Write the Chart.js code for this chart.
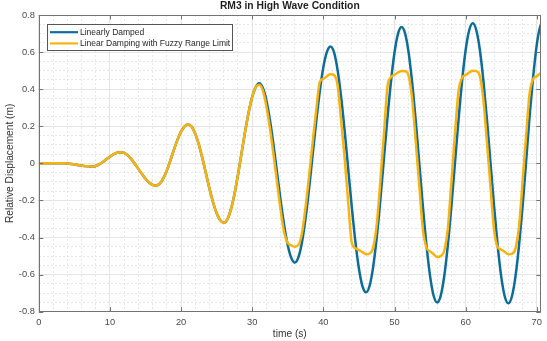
<!DOCTYPE html>
<html>
<head>
<meta charset="utf-8">
<script src="https://cdn.jsdelivr.net/npm/chart.js@4.4.1/dist/chart.umd.min.js"></script>
<style>
  html, body { margin: 0; padding: 0; background: #fff; }
  #wrap { width: 547px; height: 341px; }
</style>
</head>
<body>
<div id="wrap"><canvas id="rm3Chart" width="547" height="341"></canvas></div>
<script>
// RM3 relative displacement, sampled every 0.5 s
const time = [
  0, 0.5, 1, 1.5, 2, 2.5, 3, 3.5, 4, 4.5, 5, 5.5, 6, 6.5, 7, 7.5, 8, 8.5, 9, 9.5,
  10, 10.5, 11, 11.5, 12, 12.5, 13, 13.5, 14, 14.5, 15, 15.5, 16, 16.5, 17, 17.5, 18, 18.5, 19, 19.5,
  20, 20.5, 21, 21.5, 22, 22.5, 23, 23.5, 24, 24.5, 25, 25.5, 26, 26.5, 27, 27.5, 28, 28.5, 29, 29.5,
  30, 30.5, 31, 31.5, 32, 32.5, 33, 33.5, 34, 34.5, 35, 35.5, 36, 36.5, 37, 37.5, 38, 38.5, 39, 39.5,
  40, 40.5, 41, 41.5, 42, 42.5, 43, 43.5, 44, 44.5, 45, 45.5, 46, 46.5, 47, 47.5, 48, 48.5, 49, 49.5,
  50, 50.5, 51, 51.5, 52, 52.5, 53, 53.5, 54, 54.5, 55, 55.5, 56, 56.5, 57, 57.5, 58, 58.5, 59, 59.5,
  60, 60.5, 61, 61.5, 62, 62.5, 63, 63.5, 64, 64.5, 65, 65.5, 66, 66.5, 67, 67.5, 68, 68.5, 69, 69.5,
  70, 70.5, 71
];

const linearlyDamped = [
  0, 0, 0, 0, 0, 0, 0, 0, -0.001, -0.003, -0.005, -0.009, -0.012, -0.015, -0.016, -0.017, -0.014, -0.006, 0.007, 0.022,
  0.036, 0.049, 0.057, 0.060, 0.056, 0.043, 0.023, -0.002, -0.030, -0.058, -0.083, -0.103, -0.116, -0.120, -0.110, -0.081, -0.038, 0.016, 0.074, 0.128,
  0.171, 0.200, 0.210, 0.197, 0.159, 0.101, 0.027, -0.055, -0.137, -0.211, -0.269, -0.307, -0.320, -0.302, -0.248, -0.166, -0.061, 0.055, 0.171, 0.276,
  0.358, 0.412, 0.432, 0.406, 0.338, 0.231, 0.097, -0.053, -0.202, -0.336, -0.443, -0.511, -0.535, -0.506, -0.424, -0.295, -0.133, 0.048, 0.227, 0.390,
  0.519, 0.601, 0.630, 0.598, 0.503, 0.357, 0.172, -0.033, -0.237, -0.422, -0.568, -0.663, -0.695, -0.660, -0.558, -0.400, -0.201, 0.020, 0.241, 0.440,
  0.598, 0.700, 0.735, 0.699, 0.593, 0.429, 0.222, -0.008, -0.237, -0.444, -0.608, -0.714, -0.750, -0.713, -0.606, -0.440, -0.230, 0.003, 0.235, 0.445,
  0.611, 0.718, 0.755, 0.718, 0.611, 0.444, 0.233, 0.000, -0.233, -0.444, -0.611, -0.718, -0.755, -0.718, -0.611, -0.444, -0.233, 0.010, 0.260, 0.470,
  0.640, 0.740, 0.760
];

const fuzzyLimited = [
  0, 0, 0, 0, 0, 0, 0, 0, -0.001, -0.003, -0.005, -0.009, -0.012, -0.015, -0.016, -0.017, -0.014, -0.006, 0.007, 0.022,
  0.036, 0.049, 0.057, 0.060, 0.056, 0.043, 0.023, -0.002, -0.030, -0.058, -0.083, -0.103, -0.116, -0.120, -0.110, -0.081, -0.038, 0.016, 0.074, 0.128,
  0.171, 0.200, 0.210, 0.197, 0.159, 0.101, 0.027, -0.055, -0.137, -0.211, -0.269, -0.307, -0.320, -0.302, -0.248, -0.166, -0.061, 0.055, 0.171, 0.276,
  0.358, 0.412, 0.424, 0.392, 0.305, 0.185, 0.045, -0.105, -0.255, -0.375, -0.430, -0.442, -0.450, -0.440, -0.375, -0.235, -0.065, 0.115, 0.290, 0.440,
  0.456, 0.470, 0.480, 0.476, 0.420, 0.230, 0.025, -0.215, -0.430, -0.458, -0.468, -0.479, -0.490, -0.486, -0.455, -0.330, -0.100, 0.150, 0.410, 0.465,
  0.478, 0.490, 0.498, 0.497, 0.470, 0.340, 0.110, -0.130, -0.360, -0.455, -0.475, -0.490, -0.505, -0.500, -0.470, -0.350, -0.100, 0.160, 0.390, 0.462,
  0.476, 0.490, 0.500, 0.497, 0.470, 0.340, 0.110, -0.130, -0.360, -0.452, -0.465, -0.478, -0.490, -0.488, -0.460, -0.340, -0.100, 0.150, 0.380, 0.455,
  0.470, 0.485, 0.495
];

const xTickValues = [0, 10, 20, 30, 40, 50, 60, 70];
const yTickValues = [-0.8, -0.6, -0.4, -0.2, 0, 0.2, 0.4, 0.6, 0.8];

const chartTitle = 'RM3 in High Wave Condition';
const FONT = '"Liberation Sans", Arial, Helvetica, sans-serif';

const toPoints = (ys) => time.map((t, i) => ({ x: t, y: ys[i] }));

// box, inward ticks, title and legend the MATLAB way
const matlabFrame = {
  id: 'matlabFrame',
  afterDraw(chart) {
    const { ctx, chartArea: a, scales } = chart;
    ctx.save();
    ctx.strokeStyle = '#737373';
    ctx.lineWidth = 1;
    ctx.strokeRect(Math.round(a.left) + 0.5, Math.round(a.top) + 0.5,
                   Math.round(a.right - a.left) - 1, Math.round(a.bottom - a.top) - 1);

    const tl = 4.5;
    ctx.beginPath();
    xTickValues.forEach(v => {
      const x = Math.round(scales.x.getPixelForValue(v)) + 0.5;
      ctx.moveTo(x, a.bottom); ctx.lineTo(x, a.bottom - tl);
      ctx.moveTo(x, a.top); ctx.lineTo(x, a.top + tl);
    });
    yTickValues.forEach(v => {
      const y = Math.round(scales.y.getPixelForValue(v)) + 0.5;
      ctx.moveTo(a.left, y); ctx.lineTo(a.left + tl, y);
      ctx.moveTo(a.right, y); ctx.lineTo(a.right - tl, y);
    });
    ctx.stroke();

    // title
    ctx.fillStyle = '#1f1f1f';
    ctx.font = 'bold 10.3px ' + FONT;
    ctx.textAlign = 'center';
    ctx.textBaseline = 'middle';
    ctx.fillText(chartTitle, (a.left + a.right) / 2, 6.5);

    // legend
    const bx = Math.round(a.left + 8) + 0.5, by = Math.round(a.top + 9) + 0.5;
    const bw = 185, bh = 26;
    ctx.fillStyle = '#ffffff';
    ctx.fillRect(bx, by, bw, bh);
    ctx.strokeStyle = '#555555';
    ctx.strokeRect(bx, by, bw, bh);
    ctx.font = '8.5px ' + FONT;
    ctx.textAlign = 'left';
    chart.data.datasets.forEach((ds, i) => {
      const ry = by + 7.7 + i * 11.2;
      ctx.strokeStyle = ds.borderColor;
      ctx.lineWidth = 2.2;
      ctx.beginPath();
      ctx.moveTo(bx + 2.5, ry); ctx.lineTo(bx + 30.5, ry);
      ctx.stroke();
      ctx.fillStyle = '#262626';
      ctx.fillText(ds.label, bx + 32.5, ry + 0.5);
    });
    ctx.restore();
  }
};

const ctx = document.getElementById('rm3Chart').getContext('2d');
new Chart(ctx, {
  type: 'line',
  data: {
    datasets: [{
      label: 'Linearly Damped',
      data: toPoints(linearlyDamped),
      borderColor: '#0E6C98',
      borderWidth: 2.5,
      pointRadius: 0,
      cubicInterpolationMode: 'monotone',
      order: 1
    }, {
      label: 'Linear Damping with Fuzzy Range Limit',
      data: toPoints(fuzzyLimited),
      borderColor: '#F9B30F',
      borderWidth: 2.5,
      pointRadius: 0,
      cubicInterpolationMode: 'monotone',
      order: 0
    }]
  },
  options: {
    responsive: false,
    animation: false,
    devicePixelRatio: 1,
    layout: { padding: { top: 15, right: 4.7, bottom: 0, left: 0 } },
    plugins: {
      legend: { display: false },
      title: { display: false },
      tooltip: { enabled: false }
    },
    scales: {
      x: {
        type: 'linear',
        min: 0,
        max: 70.56,
        afterFit: (s) => { s.height = 29.3; },
        afterBuildTicks: (s) => { s.ticks = xTickValues.map(v => ({ value: v })); },
        grid: { color: '#e3e3e3', drawTicks: false },
        border: { display: false },
        ticks: { color: '#4a4a4a', padding: 5, maxRotation: 0, font: { family: FONT, size: 9.3 } },
        title: { display: true, text: 'time (s)', color: '#333333', padding: { top: 3, bottom: 1 }, font: { family: FONT, size: 10.2 } }
      },
      y: {
        type: 'linear',
        min: -0.8,
        max: 0.8,
        afterFit: (s) => { s.width = 38.8; },
        afterBuildTicks: (s) => { s.ticks = yTickValues.map(v => ({ value: v })); },
        grid: { color: '#e3e3e3', drawTicks: false },
        border: { display: false },
        ticks: { color: '#4a4a4a', padding: 4, font: { family: FONT, size: 9.3 } },
        title: { display: true, text: 'Relative Displacement (m)', color: '#333333', padding: { top: 4, bottom: 0 }, font: { family: FONT, size: 10.2 } }
      },
      xMinor: {
        type: 'linear',
        position: 'bottom',
        min: 0,
        max: 70.56,
        ticks: { display: false, stepSize: 2, includeBounds: false },
        grid: { color: '#e6e6e6', drawTicks: false },
        border: { display: false, dash: [2, 2] }
      },
      yMinor: {
        type: 'linear',
        position: 'left',
        min: -0.8,
        max: 0.8,
        ticks: { display: false, stepSize: 0.05, includeBounds: false },
        grid: { color: '#e6e6e6', drawTicks: false },
        border: { display: false, dash: [2, 2] }
      }
    }
  },
  plugins: [matlabFrame]
});
</script>
</body>
</html>
